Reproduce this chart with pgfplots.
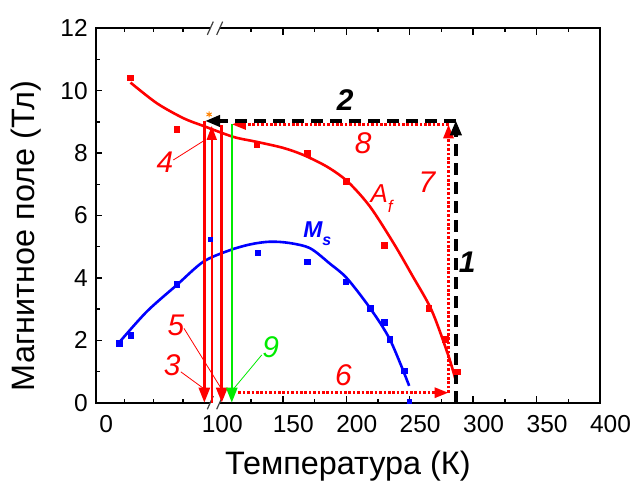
\documentclass[border=0pt]{standalone}
\usepackage{fontspec}
\setmainfont{Liberation Sans}
\usepackage{pgfplots}
\pgfplotsset{compat=1.18}
\usetikzlibrary{arrows.meta}
\definecolor{myred}{RGB}{255,0,0}
\definecolor{myblue}{RGB}{0,0,255}
\definecolor{mygreen}{RGB}{0,235,0}
\definecolor{myorange}{RGB}{255,130,0}
\begin{document}
\begin{tikzpicture}
\begin{axis}[
  at={(0,0)}, anchor=south west,
  scale only axis, width=504.3bp, height=374.4bp,
  clip=false,
  xmin=0, xmax=400, ymin=0, ymax=12,
  x coord trafo/.code={\pgfmathparse{(#1<=100.5)*1.16*#1+(#1>100.5)*(1.268*#1-3.2)}},
  x coord inv trafo/.code={\pgfmathparse{(#1<=116.5)*#1/1.16+(#1>116.5)*(#1+3.2)/1.268}},
  xtick={0,150,200,250,300,350,400},
  xticklabels={0,150,200,250,300,350,400},
  minor xtick={25,50,75,125,175,225,275,325,375},
  extra x ticks={100},
  extra x tick labels={100},
  extra x tick style={major tick length=0pt},
  ytick={0,2,4,6,8,10,12},
  minor ytick={1,3,5,7,9,11},
  ytick pos=left,
  xtick pos=both,
  tick align=inside,
  major tick length=6.5bp,
  minor tick length=4bp,
  tick style={black, line width=1.5bp},
  axis line style={black, line width=2bp},
  /pgf/number format/assume math mode=true,
  tick label style={font=\fontsize{24.6}{28}\selectfont},
  xticklabel style={xshift=10.5bp, yshift=-9bp},
  yticklabel style={xshift=-4.5bp},
  label style={font=\fontsize{32.5}{38}\selectfont},
  xlabel={Температура (К)},
  ylabel={Магнитное поле (Тл)},
  xlabel style={at={(axis description cs:0.5,-0.169)}, anchor=center},
  ylabel style={at={(axis description cs:-0.138,0.445)}, anchor=center},
]
% axis break
\fill[white] (rel axis cs:0.2272,-0.008) rectangle (rel axis cs:0.2459,0.008);
\fill[white] (rel axis cs:0.2272,0.992) rectangle (rel axis cs:0.2459,1.008);
\draw[line width=1.2bp, black!75] (rel axis cs:0.2213,-0.0176) -- (rel axis cs:0.2332,0.0179);
\draw[line width=1.2bp, black!75] (rel axis cs:0.2399,-0.0176) -- (rel axis cs:0.2518,0.0179);
\draw[line width=1.2bp, black!75] (rel axis cs:0.2213,0.9824) -- (rel axis cs:0.2332,1.0179);
\draw[line width=1.2bp, black!75] (rel axis cs:0.2399,0.9824) -- (rel axis cs:0.2518,1.0179);

% A_f curve
\addplot[myred, line width=2.6bp, smooth] coordinates {
 (30,10.26) (52.6,9.6) (75.5,9.12) (92.8,8.87) (111,8.52) (129.5,8.36)
 (150,8.17) (166.2,7.94) (185,7.56) (201.3,7.08) (218.8,6.28) (237.5,5.1)
 (252,4.08) (267.2,2.97) (280.3,1.53) (287,0.62)};
% M_s curve
\addplot[myblue, line width=2.6bp, smooth] coordinates {
 (19.5,1.90) (44,2.92) (69.8,3.77) (92.8,4.52) (108.4,4.89) (125,5.08)
 (140,5.16) (155,5.12) (171.5,4.95) (187.3,4.45) (200.5,3.99) (218.8,3.03)
 (234.6,2.01) (249.6,0.54)};
% data points
\addplot[only marks, mark=square*, mark size=2.8bp, myred] coordinates {
 (29.6,10.42) (69.8,8.76) (129.5,8.29) (169.4,7.99) (200,7.1) (230.1,5.05)
 (265.1,3.03) (278.2,2.03) (287.3,0.99)};
\addplot[only marks, mark=square*, mark size=2.8bp, myblue] coordinates {
 (20.3,1.90) (30.2,2.17) (69.8,3.80) (130.3,4.81) (169.4,4.52)
 (199.7,3.88) (218.8,3.03) (230,2.58) (234.1,2.03) (245.6,1.02)};
\addplot[only marks, mark=square*, mark size=2bp, myblue] coordinates {(99,5.24) (250,0.05)};
\addplot[only marks, mark=asterisk, mark size=3bp, myorange, line width=1bp] coordinates {(97.7,9.24)};

% red dotted loop 6-7-8
\addplot[myred, line width=3bp, dash pattern=on 2.6bp off 1.8bp,
  -{Triangle[length=14bp,width=10bp]}] coordinates {(115,0.32) (280.6,0.32)};
\addplot[myred, line width=3bp, dash pattern=on 2.6bp off 1.8bp,
  -{Triangle[length=14bp,width=10bp]}] coordinates {(280.6,0.32) (280.6,8.92)};
\addplot[myred, line width=3bp, dash pattern=on 2.6bp off 1.8bp,
  -{Triangle[length=14bp,width=10bp]}] coordinates {(280.6,8.92) (109.8,8.92)};
% black dashed 1-2
\addplot[black, line width=3.8bp, dash pattern=on 12bp off 7bp,
  -{Triangle[length=15bp,width=11bp]}] coordinates {(286.4,0) (286.4,9.05)};
\addplot[black, line width=3.8bp, dash pattern=on 12bp off 7bp,
  -{Triangle[length=15bp,width=11bp]}] coordinates {(286.4,9.03) (94.2,9.03)};
% vertical arrows 3,4,5,9
\addplot[myred, line width=2.5bp, -{Triangle[length=15bp,width=11bp]}] coordinates {(93.6,9.04) (93.6,0)};
\addplot[myred, line width=1.8bp, -{Triangle[length=14bp,width=10bp]}] coordinates {(100,0) (100,8.87)};
\addplot[myred, line width=3bp, -{Triangle[length=15bp,width=11bp]}] coordinates {(101.9,8.9) (101.9,0)};
\addplot[mygreen, line width=2.5bp, -{Triangle[length=15bp,width=11bp]}] coordinates {(109.8,8.93) (109.8,0)};
% leader lines
\addplot[myred, line width=0.8bp] coordinates {(73.3,0.99) (92.8,0.46)};
\addplot[myred, line width=0.8bp] coordinates {(76.1,2.38) (100.6,0.51)};
\addplot[mygreen, line width=0.8bp] coordinates {(133.4,1.53) (111.5,0.46)};
\addplot[myred, line width=0.8bp] coordinates {(66.9,7.78) (94.2,8.42)};

% labels
\node[black, font=\fontsize{30}{34}\selectfont\bfseries\itshape] at (axis cs:295.3,4.5) {1};
\node[black, font=\fontsize{30}{34}\selectfont\bfseries\itshape] at (axis cs:199.1,9.7) {2};
\node[myred, font=\fontsize{30}{34}\selectfont\itshape] at (axis cs:66,1.21) {3};
\node[myred, font=\fontsize{30}{34}\selectfont\itshape] at (axis cs:59.7,7.72) {4};
\node[myred, font=\fontsize{30}{34}\selectfont\itshape] at (axis cs:69.2,2.49) {5};
\node[myred, font=\fontsize{30}{34}\selectfont\itshape] at (axis cs:197.8,0.89) {6};
\node[myred, font=\fontsize{30}{34}\selectfont\itshape] at (axis cs:263.6,7.08) {7};
\node[myred, font=\fontsize{30}{34}\selectfont\itshape] at (axis cs:213.3,8.31) {8};
\node[mygreen, font=\fontsize{30}{34}\selectfont\itshape] at (axis cs:140.4,1.79) {9};
\node[myred, anchor=west, inner sep=0pt, font=\fontsize{26}{30}\selectfont\itshape] at (axis cs:219,6.55) {A\raisebox{-0.4em}{\fontsize{17}{17}\selectfont f}};
\node[myblue, anchor=west, inner sep=0pt, font=\fontsize{23}{26}\selectfont\itshape\bfseries] at (axis cs:166,5.41) {M\raisebox{-0.35em}{\fontsize{16}{16}\selectfont s}};
\end{axis}
\pgfresetboundingbox
\path[use as bounding box] (-95.7bp,-86.3bp) rectangle (541.3bp,402.7bp);
\end{tikzpicture}
\end{document}
